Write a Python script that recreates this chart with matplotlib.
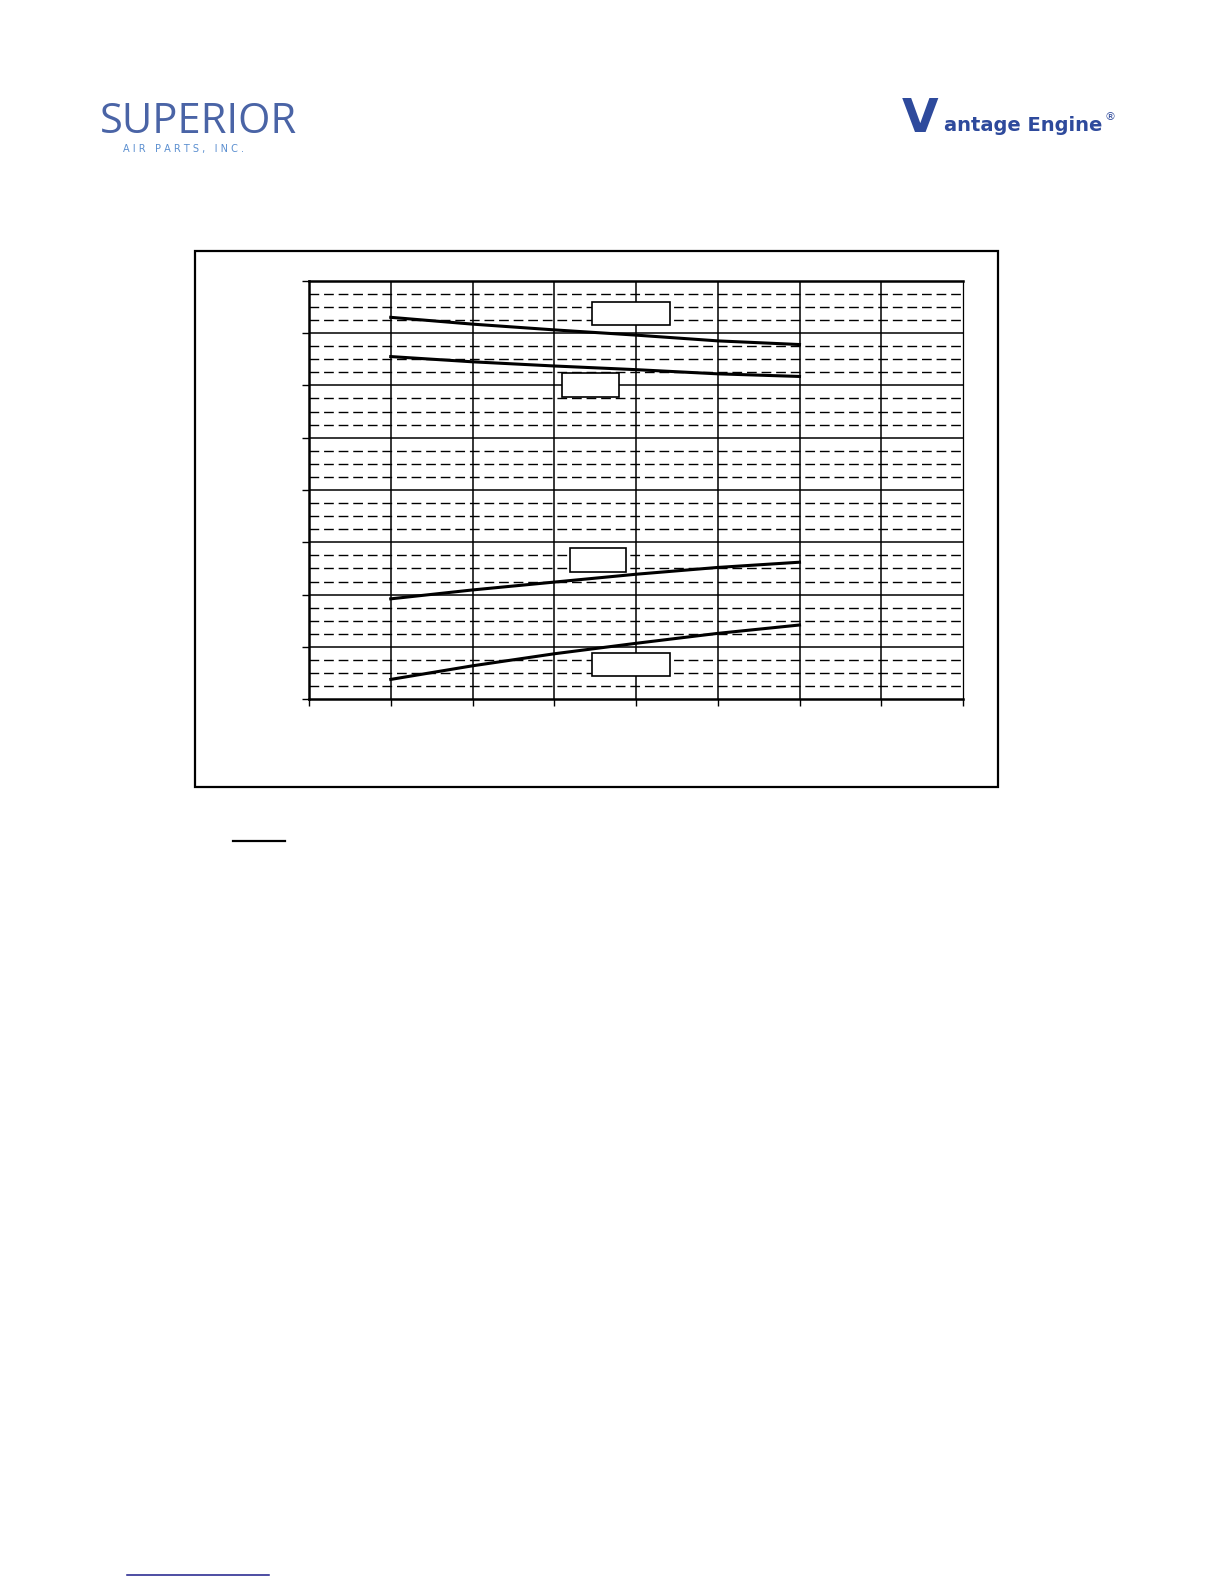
import matplotlib
matplotlib.use('Agg')
import matplotlib.pyplot as plt
from matplotlib.lines import Line2D
from matplotlib.patches import Rectangle

# curve values (x in grid columns, y in grid rows)
x_pos = [1, 2, 3, 4, 5, 6]
curve_a = [7.30, 7.17, 7.06, 6.96, 6.85, 6.78]
curve_b = [6.55, 6.45, 6.37, 6.30, 6.22, 6.17]
curve_c = [1.92, 2.09, 2.24, 2.39, 2.52, 2.62]
curve_d = [0.38, 0.64, 0.87, 1.07, 1.26, 1.42]

# empty label boxes next to each curve: (x0, y0, x1, y1) in data units
label_boxes = [
    (3.46, 7.15, 4.42, 7.59),
    (3.10, 5.78, 3.79, 6.24),
    (3.19, 2.43, 3.88, 2.89),
    (3.46, 0.44, 4.42, 0.88),
]

W, H = 1224, 1584
fig = plt.figure(figsize=(W / 100, H / 100), dpi=100)


def fx(px):
    return px / W


def fy(py):
    return 1 - py / H


# outer chart frame
frame = Rectangle((fx(195), fy(787)), fx(998) - fx(195), fy(251) - fy(787),
                  transform=fig.transFigure, fill=False, lw=1.6, ec='black')
fig.add_artist(frame)

ax = fig.add_axes([fx(309), fy(699.3), fx(963) - fx(309), fy(280.7) - fy(699.3)])
ax.set_xlim(0, 8)
ax.set_ylim(0, 8)
ax.set_xticks(range(9))
ax.set_yticks(range(9))
ax.set_xticklabels([])
ax.set_yticklabels([])
ax.tick_params(direction='out', length=5, width=1, color='black')

# minor dashed horizontal grid, solid major grid
for i in range(8):
    for k in (0.25, 0.5, 0.75):
        ax.axhline(i + k, color='black', lw=1.0, dashes=(7, 3.5), zorder=1)
for v in range(1, 8):
    ax.axhline(v, color='black', lw=1.1, zorder=1)
    ax.axvline(v, color='black', lw=1.1, zorder=1)

for s in ('left', 'bottom', 'top'):
    ax.spines[s].set_linewidth(1.8)
ax.spines['right'].set_linewidth(0.9)

for y in (curve_a, curve_b, curve_c, curve_d):
    ax.plot(x_pos, y, color='black', lw=2.2, zorder=3)

for x0, y0, x1, y1 in label_boxes:
    ax.add_patch(Rectangle((x0, y0), x1 - x0, y1 - y0, fc='white', ec='black',
                           lw=1.2, zorder=4))

# header logos
fig.text(fx(100), fy(133), 'SUPERIOR', fontsize=30, color='#4a64a6',
         family='Open Sans', ha='left', va='baseline')
fig.text(fx(123), fy(152), 'A I R   P A R T S ,   I N C .', fontsize=7,
         color='#5b8fd0', ha='left', va='baseline')
fig.text(fx(902), fy(132), 'V', fontsize=34, fontweight='bold', color='#2e4a9c',
         ha='left', va='baseline')
fig.text(fx(944), fy(131), 'antage Engine', fontsize=14, fontweight='bold',
         color='#2e4a9c', ha='left', va='baseline')
fig.text(fx(1104), fy(120), '®', fontsize=8, color='#2e4a9c', ha='left',
         va='baseline')

# underlines left on the page
fig.add_artist(Line2D([fx(233), fx(285)], [fy(840.7), fy(840.7)],
                      transform=fig.transFigure, color='black', lw=1.6))
fig.add_artist(Line2D([fx(127), fx(269)], [fy(1574.7), fy(1574.7)],
                      transform=fig.transFigure, color='#1c1c8a', lw=1.1))

fig.savefig('out.png', dpi=100)
